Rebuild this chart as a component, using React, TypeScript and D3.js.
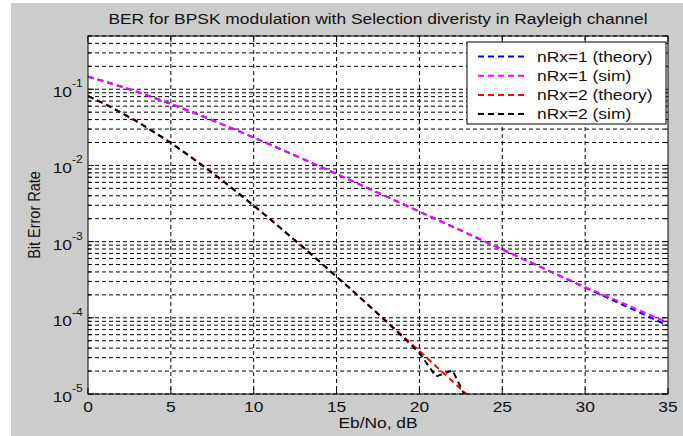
import React from 'react';
import * as d3 from 'd3';

// Eb/No points (dB) and BER values
const ebNoDb = [0, 1, 2, 3, 4, 5, 6, 7, 8, 9, 10, 11, 12, 13, 14, 15, 16, 17,
    18, 19, 20, 21, 22, 23, 24, 25, 26, 27, 28, 29, 30, 31, 32, 33, 34, 35];

const theoryN1 = [0.1464, 0.1267, 0.1085, 0.0919, 0.0771, 0.0642, 0.0530, 0.0435,
    0.03546, 0.02878, 0.02327, 0.01875, 0.01507, 0.01208, 0.009665, 0.007723,
    0.006164, 0.004915, 0.003916, 0.003118, 0.002481, 0.001974, 0.001570,
    0.001248, 0.000992, 0.000789, 0.000627, 0.000498, 0.0003958, 0.0003144,
    0.0002498, 0.0001984, 0.0001576, 0.0001252, 0.0000995, 0.0000790];

const simN1 = [0.1466, 0.1268, 0.1085, 0.0919, 0.0771, 0.0642, 0.0530, 0.0435,
    0.0354, 0.0288, 0.0233, 0.01875, 0.01505, 0.01209, 0.00966, 0.00773,
    0.00617, 0.00491, 0.00392, 0.00312, 0.00248, 0.00197, 0.00157,
    0.00125, 0.000995, 0.000790, 0.000628, 0.000500, 0.000398, 0.000318,
    0.000252, 0.000205, 0.000166, 0.000133, 0.000107, 0.0000865];

const theoryN2 = [0.0816, 0.0642, 0.0494, 0.0372, 0.02735, 0.0197, 0.01393, 0.00967,
    0.00661, 0.00446, 0.002973, 0.001963, 0.001284, 0.000835, 0.000540, 0.000347,
    0.0002225, 0.0001421, 0.0000906, 0.0000576, 0.0000366, 0.0000232, 0.0000147,
    0.0000093, 0.0000059, 0.0000037, 0.0000024, 0.0000015, 0.00000094, 0.00000059,
    0.00000038, 0.00000024, 0.00000015, 0.000000094, 0.000000059, 0.000000038];

const simN2 = [0.0810, 0.0645, 0.0492, 0.0373, 0.0272, 0.0198, 0.0139, 0.00962,
    0.00665, 0.00444, 0.00297, 0.00197, 0.00128, 0.000838, 0.000541, 0.000346,
    0.000224, 0.000141, 0.0000895, 0.0000560, 0.0000345, 0.0000170, 0.0000205,
    0.0000072, null, null, null, null, null, null, null, null, null, null, null, null];

const xTicks = [0, 5, 10, 15, 20, 25, 30, 35];
const yDecades = [-5, -4, -3, -2, -1];

const seriesNames = ['nRx=1 (theory)', 'nRx=1 (sim)', 'nRx=2 (theory)', 'nRx=2 (sim)'];
const seriesColors = ['#0000ff', '#ff00ff', '#ff0000', '#000000'];
const seriesValues = [theoryN1, simN1, theoryN2, simN2];

const FONT = "'Liberation Sans', Arial, sans-serif";

function Txt({x, y, size = 14.5, anchor = 'middle', rotate = 0, children}: any) {
    const t = `translate(${x},${y}) scale(1.2,1)` + (rotate ? ` rotate(${rotate})` : '');
    return <text transform={t} fontSize={size} textAnchor={anchor}
                 fontFamily={FONT} fill="#111">{children}</text>;
}

export default function App() {
    const width = 683;
    const height = 436;
    const margin = {top: 36, right: 15, bottom: 42, left: 88};

    const x = d3.scaleLinear()
        .domain([0, 35])
        .range([margin.left, width - margin.right]);

    const y = d3.scaleLog()
        .domain([1e-5, 0.5])
        .range([height - margin.bottom, margin.top]);

    const line = d3.line<any>()
        .defined(d => d[1] != null)
        .x(d => x(d[0]))
        .y(d => y(d[1]));

    const x0 = x.range()[0], x1 = x.range()[1];
    const y0 = y.range()[0], y1 = y.range()[1];
    const yGrid = y.ticks();

    return (
        <svg width={width} height={height}
             style={{position: 'absolute', left: 0, top: 0, display: 'block'}}>
            <rect width={width} height={height} fill="#fff"/>
            <rect x={11} y={3} width={width - 11} height={height - 3} fill="#cccccc"/>
            <rect x={x0} y={y1} width={x1 - x0} height={y0 - y1} fill="#fff"/>

            <defs>
                <clipPath id="plot">
                    <rect x={x0} y={y1} width={x1 - x0} height={y0 - y1}/>
                </clipPath>
            </defs>

            {/* grid */}
            <g stroke="#000" strokeWidth={1} strokeDasharray="4,3" fill="none">
                {yGrid.map((v, i) => (
                    <line key={'gy' + i} x1={x0} x2={x1} y1={y(v)} y2={y(v)}/>
                ))}
                {xTicks.slice(1, -1).map(v => (
                    <line key={'gx' + v} x1={x(v)} x2={x(v)} y1={y1} y2={y0}/>
                ))}
            </g>

            {/* ticks */}
            <g stroke="#000" strokeWidth={1}>
                {xTicks.map(v => (
                    <g key={'tx' + v}>
                        <line x1={x(v)} x2={x(v)} y1={y0} y2={y0 - 6}/>
                        <line x1={x(v)} x2={x(v)} y1={y1} y2={y1 + 6}/>
                    </g>
                ))}
                {yGrid.map((v, i) => {
                    const major = Math.abs(Math.log10(v) - Math.round(Math.log10(v))) < 1e-6;
                    const len = major ? 6 : 3;
                    return (
                        <g key={'ty' + i}>
                            <line x1={x0} x2={x0 + len} y1={y(v)} y2={y(v)}/>
                            <line x1={x1} x2={x1 - len} y1={y(v)} y2={y(v)}/>
                        </g>
                    );
                })}
            </g>

            {/* curves */}
            <g clipPath="url(#plot)" fill="none" strokeWidth={2} strokeDasharray="6,4">
                {seriesValues.map((vals, i) => (
                    <path key={'s' + i} stroke={seriesColors[i]}
                          d={line(ebNoDb.map((e, j) => [e, vals[j]])) || ''}/>
                ))}
            </g>

            <rect x={x0} y={y1} width={x1 - x0} height={y0 - y1}
                  fill="none" stroke="#000" strokeWidth={1}/>

            {/* axis labels */}
            {xTicks.map(v => (
                <Txt key={'lx' + v} x={x(v)} y={y0 + 18}>{v}</Txt>
            ))}
            {yDecades.map(d => (
                <g key={'ly' + d}>
                    <Txt x={72} y={y(Math.pow(10, d)) + 8} anchor="end">10</Txt>
                    <Txt x={72} y={y(Math.pow(10, d)) - 2} anchor="start" size={10}>{'-' + (-d)}</Txt>
                </g>
            ))}

            <Txt x={(x0 + x1) / 2} y={24}>
                BER for BPSK modulation with Selection diveristy in Rayleigh channel
            </Txt>
            <Txt x={(x0 + x1) / 2} y={y0 + 34}>Eb/No, dB</Txt>
            <Txt x={40} y={(y0 + y1) / 2} rotate={-90}>Bit Error Rate</Txt>

            {/* legend */}
            <g>
                <rect x={467} y={42} width={199} height={82} fill="#fff" stroke="#000" strokeWidth={1}/>
                {seriesNames.map((name, i) => {
                    const ly = 56.5 + i * 19.2;
                    return (
                        <g key={'lg' + i}>
                            <line x1={478} x2={528} y1={ly} y2={ly} stroke={seriesColors[i]}
                                  strokeWidth={2} strokeDasharray="6,4"/>
                            <Txt x={537} y={ly + 5} anchor="start">{name}</Txt>
                        </g>
                    );
                })}
            </g>
        </svg>
    );
}
